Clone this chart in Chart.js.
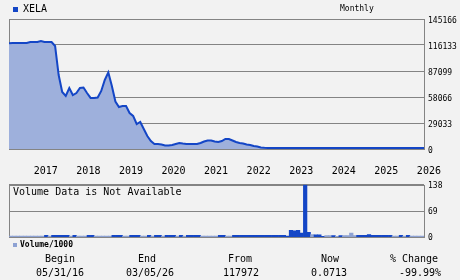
<!DOCTYPE html>
<html>
<head>
<meta charset="utf-8">
<script src="https://cdn.jsdelivr.net/npm/chart.js@4.4.1/dist/chart.umd.min.js"></script>
<style>
  html, body { margin: 0; padding: 0; background: #f2f2f2; }
  #wrap { position: relative; width: 460px; height: 280px; overflow: hidden;
          font-family: "DejaVu Sans Mono", monospace; color: #000; }
  canvas { position: absolute; left: 0; }
  #price { top: 0; }
  #volume { top: 176px; }
  .t { position: absolute; white-space: nowrap; font-size: 10px; line-height: 12px; }
  .s { font-size: 8px; line-height: 10px; }
  .c { width: 80px; text-align: center; }
  .sq { position: absolute; }
</style>
</head>
<body>
<div id="wrap">
  <canvas id="price" width="460" height="180"></canvas>
  <canvas id="volume" width="460" height="70"></canvas>

  <div class="sq" style="left:13px;top:7px;width:5px;height:5px;background:#1446c6"></div>
  <div class="t" style="left:23px;top:3px">XELA</div>
  <div class="t s" style="left:340px;top:4px">Monthly</div>

  <div class="t" style="left:13px;top:186px">Volume Data is Not Available</div>

  <div class="sq" style="left:13px;top:243px;width:4px;height:4px;background:#8ea2d3"></div>
  <div class="t s" style="left:20px;top:240px;font-weight:bold">Volume/1000</div>

  <div id="stats"></div>
</div>

<script>
// monthly closes, index 0 = 05/31/16 ... 117 = 03/2026
const priceValues = [
  117972, 118400, 118400, 118400, 118400, 118400, 119500, 119500, 119500, 120600,
  119500, 119500, 119500, 115000, 82600, 63700, 59200, 68100, 60300, 62500,
  68100, 68700, 62500, 57000, 57000, 57500, 64800, 77100, 85500, 70400,
  53000, 46900, 48000, 48000, 40200, 36900, 27900, 30200, 22300, 14500,
  8900, 5600, 5600, 5000, 3900, 3900, 4500, 5600, 6700, 6100,
  5600, 5600, 5600, 5600, 6700, 8400, 9500, 9500, 8400, 7800,
  8900, 11200, 11200, 9500, 7800, 6700, 6100, 5000, 4500, 3400,
  2800, 1700, 1300, 1200, 1100, 1100, 1100, 1100, 1100, 1100,
  1100, 1100, 1100, 1100, 1100, 1100, 1100, 1100, 1100, 1100,
  1100, 1100, 1100, 1100, 1100, 1100, 1100, 1100, 1100, 1100,
  1100, 1100, 1100, 1100, 1100, 1100, 1100, 1100, 1100, 1100,
  1100, 1100, 1100, 1100, 1100, 1100, 1100, 1100
];

const priceTicks = [0, 29033, 58066, 87099, 116133, 145166];

// month index of each January, labels for them
const yearTicks = [7, 19, 31, 43, 55, 67, 79, 91, 103, 115];
const yearLabels = ['2017', '2018', '2019', '2020', '2021', '2022', '2023', '2024', '2025', '2026'];

// volume / 1000 per month (117 bars)
const volumeValues = [
  3, 3, 3, 3, 3, 3, 3, 3, 3, 3,
  5, 3, 5, 5, 5, 5, 5, 3, 5, 3,
  3, 3, 5, 5, 3, 3, 3, 3, 3, 5,
  5, 5, 3, 3, 5, 5, 5, 3, 3, 5,
  3, 5, 5, 3, 5, 5, 5, 3, 5, 3,
  5, 5, 5, 5, 3, 3, 3, 3, 3, 5,
  5, 3, 3, 5, 5, 5, 5, 5, 5, 5,
  5, 5, 5, 5, 5, 5, 5, 5, 3, 18,
  17, 18, 11, 138, 13, 7, 6, 6, 2, 4,
  4, 4, 2, 4, 4, 4, 11, 4, 5, 5,
  5, 7, 5, 5, 5, 5, 5, 5, 3, 3,
  5, 3, 5, 3, 3, 3, 3
];
// 1 = light bar, 0 = dark bar
const volumeLight = [
  1, 1, 1, 1, 1, 1, 1, 1, 1, 1,
  0, 1, 0, 0, 0, 0, 0, 1, 0, 1,
  1, 1, 0, 0, 1, 1, 1, 1, 1, 0,
  0, 0, 1, 1, 0, 0, 0, 1, 1, 0,
  1, 0, 0, 1, 0, 0, 0, 1, 0, 1,
  0, 0, 0, 0, 1, 1, 1, 1, 1, 0,
  0, 1, 1, 0, 0, 0, 0, 0, 0, 0,
  0, 0, 0, 0, 0, 0, 0, 0, 0, 0,
  0, 0, 0, 0, 0, 1, 0, 0, 0, 1,
  1, 0, 1, 0, 1, 1, 1, 1, 0, 0,
  0, 0, 0, 0, 0, 0, 0, 0, 1, 1,
  0, 1, 0, 1, 1, 1, 1
];
const volumeTicks = [0, 69, 138];

const stats = [
  { head: 'Begin', value: '05/31/16', hx: 60, vx: 60 },
  { head: 'End', value: '03/05/26', hx: 147, vx: 150 },
  { head: 'From', value: '117972', hx: 240, vx: 241 },
  { head: 'Now', value: '0.0713', hx: 330, vx: 329 },
  { head: '% Change', value: '-99.99%', hx: 414, vx: 420 }
];

const DARK = '#1446c6';
const LIGHT = '#8ea2d3';
const FILL = '#9eb0dc';
const GRID = '#848484';
const MONO = 'DejaVu Sans Mono';

// gray box round the plot area
const frame = {
  id: 'frame',
  beforeDatasetsDraw(c) {
    const a = c.chartArea, ctx = c.ctx;
    ctx.save();
    ctx.strokeStyle = GRID;
    ctx.lineWidth = 1;
    ctx.strokeRect(Math.round(a.left) + 0.5, Math.round(a.top) + 0.5,
      Math.round(a.right - a.left), Math.round(a.bottom - a.top));
    ctx.restore();
  }
};

function buildPrice() {
  new Chart(document.getElementById('price'), {
    type: 'line',
    data: {
      datasets: [{
        data: priceValues.map((v, i) => ({ x: i, y: v })),
        borderColor: DARK,
        backgroundColor: FILL,
        borderWidth: 2,
        pointRadius: 0,
        tension: 0,
        fill: 'origin'
      }]
    },
    options: {
      responsive: false,
      animation: false,
      events: [],
      layout: { padding: { left: 9, top: 19, right: 0, bottom: 0 } },
      plugins: { legend: { display: false }, tooltip: { enabled: false } },
      scales: {
        x: {
          type: 'linear', min: 0, max: priceValues.length - 1,
          grid: { display: false }, border: { display: false },
          afterBuildTicks: s => { s.ticks = yearTicks.map(v => ({ value: v })); },
          afterFit: s => { s.height = 31; },
          ticks: {
            autoSkip: false, maxRotation: 0, padding: 8, labelOffset: 12,
            color: '#000', font: { family: MONO, size: 10 },
            callback: v => yearLabels[yearTicks.indexOf(v)]
          }
        },
        y: {
          position: 'right', min: 0, max: priceTicks[priceTicks.length - 1],
          grid: { color: GRID, lineWidth: 1, drawTicks: false }, border: { display: false },
          afterBuildTicks: s => { s.ticks = priceTicks.map(v => ({ value: v })); },
          afterFit: s => { s.width = 36; },
          ticks: {
            padding: 4, labelOffset: 2, color: '#000',
            font: { family: MONO, size: 8 },
            callback: v => String(v)
          }
        }
      }
    },
    plugins: [frame]
  });
}

function buildVolume() {
  new Chart(document.getElementById('volume'), {
    type: 'bar',
    data: {
      labels: volumeValues.map((_, i) => i),
      datasets: [{
        data: volumeValues,
        backgroundColor: volumeLight.map(f => f ? LIGHT : DARK),
        borderWidth: 0,
        barPercentage: 1,
        categoryPercentage: 1
      }]
    },
    options: {
      responsive: false,
      animation: false,
      events: [],
      layout: { padding: { left: 9, top: 4, right: 0, bottom: 6 } },
      plugins: { legend: { display: false }, tooltip: { enabled: false } },
      scales: {
        x: { display: false },
        y: {
          position: 'right', min: 0, max: 138,
          grid: { color: GRID, lineWidth: 1, drawTicks: false }, border: { display: false },
          afterBuildTicks: s => { s.ticks = volumeTicks.map(v => ({ value: v })); },
          afterFit: s => { s.width = 36; },
          ticks: {
            padding: 4, labelOffset: 1, color: '#000',
            font: { family: MONO, size: 8 },
            callback: v => String(v)
          }
        }
      }
    },
    plugins: [frame]
  });
}

function buildStats() {
  const box = document.getElementById('stats');
  stats.forEach(s => {
    box.insertAdjacentHTML('beforeend',
      `<div class="t c" style="left:${s.hx - 40}px;top:253px">${s.head}</div>` +
      `<div class="t c" style="left:${s.vx - 40}px;top:267px">${s.value}</div>`);
  });
}

buildPrice();
buildVolume();
buildStats();
</script>
</body>
</html>
